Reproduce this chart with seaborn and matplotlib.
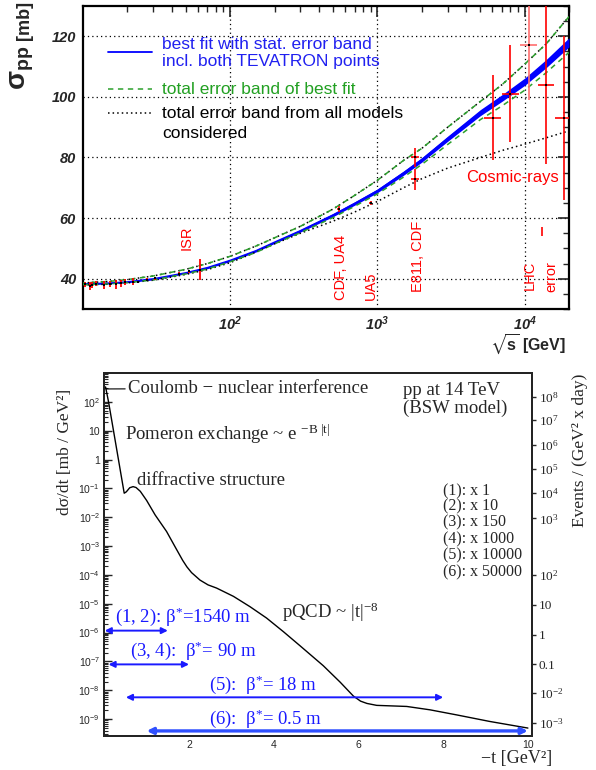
import matplotlib
matplotlib.use("Agg")
import matplotlib.pyplot as plt
import seaborn as sns
import pandas as pd
from matplotlib.ticker import MultipleLocator, LogLocator, NullFormatter, NullLocator

# ---------------- top panel data ----------------
fit_sqrt_s = [10, 15, 20, 30, 50, 70, 100, 150, 200, 300, 500, 700, 1000, 1500, 2000, 3000, 5000, 7000, 10000, 14000, 20000]
best_fit = [38.2, 38.5, 38.9, 39.9, 41.9, 43.6, 46.0, 49.2, 52.0, 55.8, 61.0, 64.8, 69.0, 74.8, 79.2, 86.2, 94.8, 99.6, 105.0, 111.0, 118.0]
stat_lo = [38.0, 38.3, 38.7, 39.65, 41.65, 43.3, 45.7, 48.85, 51.65, 55.4, 60.5, 64.25, 68.4, 74.1, 78.45, 85.35, 93.8, 98.5, 103.8, 109.65, 116.5]
stat_hi = [38.4, 38.7, 39.1, 40.15, 42.15, 43.9, 46.3, 49.55, 52.35, 56.2, 61.5, 65.35, 69.6, 75.5, 79.95, 87.05, 95.8, 100.7, 106.2, 112.35, 119.5]
total_hi = [38.6, 39.1, 39.7, 40.9, 43.1, 45.0, 47.4, 50.8, 53.5, 57.3, 63.0, 67.5, 72.5, 79.0, 83.0, 90.0, 98.5, 104.0, 110.8, 117.5, 126.5]
total_lo = [38.0, 38.3, 38.7, 39.6, 41.6, 43.2, 45.6, 48.7, 51.5, 55.2, 60.2, 63.9, 68.0, 73.5, 77.7, 84.3, 92.5, 97.0, 102.2, 108.0, 114.7]
models_lo = [37.9, 38.2, 38.6, 39.5, 41.4, 43.0, 45.3, 48.8, 51.5, 55.0, 59.0, 62.0, 65.5, 70.0, 73.0, 76.5, 80.0, 82.3, 84.4, 86.5, 88.8]

low_sqrt_s = [10.3, 11.1, 11.5, 12.3, 13.8, 15.3, 16.8, 18.2, 19.4, 21.7, 23.5, 27.4, 30.6, 44.7, 52.8, 62.5]
low_sigma = [38.1, 37.6, 38.0, 38.3, 38.0, 38.4, 38.2, 38.5, 38.9, 39.0, 38.9, 39.7, 40.2, 41.7, 42.4, 43.0]
low_err = [0.9, 1.2, 1.0, 0.8, 1.3, 1.0, 1.5, 1.2, 0.9, 1.1, 0.4, 0.6, 0.5, 0.5, 0.6, 3.5]

coll_sqrt_s = [546, 900, 1800, 1800]
coll_sigma = [63.0, 65.0, 80.0, 72.8]
coll_err = [0.9, 0.8, 3.2, 3.5]
coll_xerr_lo = [15, 20, 110, 110]
coll_xerr_hi = [15, 20, 120, 120]

cosmic_sqrt_s = [6080, 8000, 10650, 13960, 18400]
cosmic_sigma = [93.1, 101.0, 117.0, 104.0, 93.0]
cosmic_err = [14.0, 16.0, 18.0, 26.0, 27.0]
cosmic_xerr_lo = [750, 980, 1300, 1700, 2250]
cosmic_xerr_hi = [850, 1120, 1500, 1950, 2550]

lhc_sqrt_s = [13200]
lhc_sigma = [55.5]
lhc_err = [1.4]

# ---------------- bottom panel data ----------------
t_vals = [0.03, 0.1, 0.2, 0.3, 0.4, 0.47, 0.52, 0.6, 0.68, 0.75, 0.85, 1.0, 1.2, 1.47, 1.7, 1.85,
          1.95, 2.06, 2.26, 2.45, 2.65, 3.05, 3.44, 3.83, 4.23, 4.62, 5.17, 5.57, 5.88, 6.05, 6.2,
          6.43, 7.14, 7.69, 8.32, 9.1, 10.0]
dsdt_vals = [3.3e2, 1.0e2, 1.4e1, 1.95, 2.7e-1, 6.8e-2, 7.6e-2, 1.05e-1, 1.15e-1, 1.07e-1, 7.9e-2,
             3.8e-2, 1.2e-2, 3.2e-3, 7.9e-4, 3.2e-4, 1.9e-4, 1.2e-4, 6.6e-5, 4.5e-5, 3.5e-5,
             1.8e-5, 7.9e-6, 3.2e-6, 1.07e-6, 3.5e-7, 7.1e-8, 1.9e-8, 6.3e-9, 4.2e-9, 3.5e-9,
             3.0e-9, 2.75e-9, 2.1e-9, 1.4e-9, 8.3e-10, 4.9e-10]

beta_labels = [r"(1, 2): $\mathregular{β^{*}}$=1540 m", r"(3, 4):  $\mathregular{β^{*}}$= 90 m",
               r"(5):  $\mathregular{β^{*}}$= 18 m", r"(6):  $\mathregular{β^{*}}$= 0.5 m"]
beta_t_min = [0.01, 0.1, 0.51, 1.0]
beta_t_max = [1.5, 2.0, 8.0, 10.0]
beta_level = [1.17e-6, 7.9e-8, 5.7e-9, 3.9e-10]

mult_labels = ["(1): x 1", "(2): x 10", "(3): x 150", "(4): x 1000", "(5): x 10000", "(6): x 50000"]

left_tick_vals = [1e-9, 1e-8, 1e-7, 1e-6, 1e-5, 1e-4, 1e-3, 1e-2, 1e-1, 1, 10, 100]
left_tick_labels = [r"$\mathregular{10^{-9}}$", r"$\mathregular{10^{-8}}$", r"$\mathregular{10^{-7}}$",
                    r"$\mathregular{10^{-6}}$", r"$\mathregular{10^{-5}}$", r"$\mathregular{10^{-4}}$",
                    r"$\mathregular{10^{-3}}$", r"$\mathregular{10^{-2}}$", r"$\mathregular{10^{-1}}$",
                    "1", "10", r"$\mathregular{10^{2}}$"]
events_tick_vals = [1.48e2, 2.34e1, 3.16, 4.6e-1, 6.8e-2, 9.1e-3, 1.0e-4, 9.1e-6, 8.3e-7, 8.1e-8, 7.9e-9, 7.2e-10]
events_tick_labels = [r"$\mathregular{10^{8}}$", r"$\mathregular{10^{7}}$", r"$\mathregular{10^{6}}$",
                      r"$\mathregular{10^{5}}$", r"$\mathregular{10^{4}}$", r"$\mathregular{10^{3}}$",
                      r"$\mathregular{10^{2}}$", "10", "1", "0.1", r"$\mathregular{10^{-2}}$",
                      r"$\mathregular{10^{-3}}$"]

# ---------------- style ----------------
sns.set_style("white")
SANS = ["Liberation Sans", "DejaVu Sans"]
SERIF = ["Liberation Serif", "DejaVu Serif"]
plt.rcParams["font.family"] = SANS
plt.rcParams["mathtext.fontset"] = "stix"

fig = plt.figure(figsize=(5.96, 7.70), dpi=100)
W, H = 596.0, 770.0

# ================= TOP PANEL =================
ax = fig.add_axes([83 / W, 1 - 309 / H, 486 / W, 303 / H])
ax.set_xscale("log")
ax.set_xlim(10, 2e4)
ax.set_ylim(30, 130)

ax.grid(True, which="major", color="black", linestyle=(0, (1, 2.5)), lw=0.9)

fit_df = pd.DataFrame({"s": fit_sqrt_s, "best": best_fit, "thi": total_hi,
                       "tlo": total_lo, "mlo": models_lo})
ax.fill_between(fit_sqrt_s, stat_lo, stat_hi, color="#0000ff", lw=0, zorder=3)
sns.lineplot(data=fit_df, x="s", y="best", color="#0000ff", lw=1.3, ax=ax, sort=False, estimator=None, zorder=3)
sns.lineplot(data=fit_df, x="s", y="thi", color="black", lw=1.1, linestyle=(0, (1, 2)), ax=ax, sort=False, estimator=None, zorder=4)
sns.lineplot(data=fit_df, x="s", y="mlo", color="black", lw=1.1, linestyle=(0, (1, 2)), ax=ax, sort=False, estimator=None, zorder=4)
sns.lineplot(data=fit_df, x="s", y="thi", color="#2ca02c", lw=1.1, linestyle=(1.5, (3.5, 3)), ax=ax, sort=False, estimator=None, zorder=4)
sns.lineplot(data=fit_df, x="s", y="tlo", color="#2ca02c", lw=1.1, linestyle=(0, (3.5, 3)), ax=ax, sort=False, estimator=None, zorder=4)

ax.errorbar(low_sqrt_s, low_sigma, yerr=low_err, fmt="none", ecolor="red", elinewidth=1.3, zorder=5)
ax.errorbar(coll_sqrt_s, coll_sigma, yerr=coll_err, xerr=[coll_xerr_lo, coll_xerr_hi], fmt="none",
            ecolor="red", elinewidth=1.2, zorder=5)
for i in range(len(cosmic_sqrt_s)):
    col = "#ff7070" if i == 2 else "red"
    ax.errorbar([cosmic_sqrt_s[i]], [cosmic_sigma[i]], yerr=[cosmic_err[i]],
                xerr=[[cosmic_xerr_lo[i]], [cosmic_xerr_hi[i]]], fmt="none", ecolor=col,
                elinewidth=1.2, zorder=5)
ax.errorbar(lhc_sqrt_s, lhc_sigma, yerr=lhc_err, fmt="none", ecolor="red", elinewidth=1.2, zorder=5)

pts = pd.DataFrame({"s": low_sqrt_s + coll_sqrt_s + cosmic_sqrt_s,
                    "v": low_sigma + coll_sigma + cosmic_sigma})
sns.scatterplot(data=pts, x="s", y="v", marker="s", s=4, color="black", linewidth=0, ax=ax, zorder=6)

ax.set_xlabel("")
ax.set_ylabel("")
ax.yaxis.set_major_locator(MultipleLocator(20))
ax.yaxis.set_minor_locator(MultipleLocator(5))
ax.set_xticks([100, 1000, 10000], [r"$\mathregular{10^{2}}$", r"$\mathregular{10^{3}}$", r"$\mathregular{10^{4}}$"])
ax.xaxis.set_minor_locator(LogLocator(base=10, subs=range(2, 10), numticks=30))
ax.xaxis.set_minor_formatter(NullFormatter())
ax.tick_params(axis="both", which="major", direction="in", length=8, width=1.2, top=True, right=True,
               labelsize=10.5, pad=5)
ax.tick_params(axis="x", which="major", pad=4)
ax.tick_params(axis="both", which="minor", direction="in", length=4.5, width=1.0, top=True, right=True)
for lab in ax.get_xticklabels() + ax.get_yticklabels():
    lab.set_fontweight("bold")
    lab.set_fontstyle("italic")
for sp in ax.spines.values():
    sp.set_linewidth(1.6)
    sp.set_color("black")

# legend (manual)
ax.plot([0.052, 0.142], [0.848, 0.848], transform=ax.transAxes, color="#0000ff", lw=1.3)
ax.plot([0.052, 0.142], [0.726, 0.726], transform=ax.transAxes, color="#2ca02c", lw=1.1, linestyle=(0, (3.5, 3)))
ax.plot([0.052, 0.142], [0.647, 0.647], transform=ax.transAxes, color="black", lw=1.1, linestyle=(0, (1, 2)))
leg_fs = 12.5
ax.text(0.1626, 0.874, "best fit with stat. error band", transform=ax.transAxes, color="#2020f0",
        fontsize=leg_fs, va="center", ha="left")
ax.text(0.1626, 0.816, "incl. both TEVATRON points", transform=ax.transAxes, color="#2020f0",
        fontsize=leg_fs, va="center", ha="left")
ax.text(0.1626, 0.726, "total error band of best fit", transform=ax.transAxes, color="#22a022",
        fontsize=leg_fs, va="center", ha="left")
ax.text(0.1626, 0.645, "total error band from all models", transform=ax.transAxes, color="black",
        fontsize=leg_fs, va="center", ha="left")
ax.text(0.1626, 0.580, "considered", transform=ax.transAxes, color="black",
        fontsize=leg_fs, va="center", ha="left")

# experiment labels
red_fs = 10.5
ax.text(50.2, 49.6, "ISR", rotation=90, color="red", fontsize=red_fs, ha="center", va="bottom")
ax.text(569, 33.1, "CDF, UA4", rotation=90, color="red", fontsize=red_fs, ha="center", va="bottom")
ax.text(896, 33.1, "UA5", rotation=90, color="red", fontsize=red_fs, ha="center", va="bottom")
ax.text(1900, 35.7, "E811, CDF", rotation=90, color="red", fontsize=red_fs, ha="center", va="bottom")
ax.text(10800, 36.4, "LHC", rotation=90, color="red", fontsize=red_fs, ha="center", va="bottom")
ax.text(15100, 35.7, "error", rotation=90, color="red", fontsize=red_fs, ha="center", va="bottom")
ax.text(0.980, 0.434, "Cosmic-rays", transform=ax.transAxes, color="red", fontsize=12, ha="right", va="center")

# axis labels
ax.text(0.994, -0.117, r"$\sqrt{\mathregular{s}}$ [GeV]", transform=ax.transAxes, ha="right", va="center",
        fontsize=11.5, fontweight="bold")
ax.text(-0.124, 0.795, r"$\mathregular{σ_{pp}}$", transform=ax.transAxes, rotation=90, ha="center",
        va="center", fontsize=20, fontweight="bold")
ax.text(-0.121, 0.952, "[mb]", transform=ax.transAxes, rotation=90, ha="center", va="center",
        fontsize=13, fontweight="bold")

# ================= BOTTOM PANEL =================
bx = fig.add_axes([104.3 / W, 1 - 736 / H, 427.4 / W, 363 / H])
bx.set_yscale("log")
bx.set_xlim(0, 10.09)
bx.set_ylim(2.6e-10, 1e3)

curve = pd.DataFrame({"t": t_vals, "d": dsdt_vals})
sns.lineplot(data=curve, x="t", y="d", color="black", lw=1.0, ax=bx, sort=False, estimator=None)
bx.set_xlabel("")
bx.set_ylabel("")

for i in range(len(beta_labels)):
    lw = 2.4 if i == 3 else 1.4
    col = "#3050ff" if i == 3 else "#1a1aff"
    bx.annotate("", xy=(beta_t_max[i], beta_level[i]), xytext=(beta_t_min[i], beta_level[i]),
                arrowprops=dict(arrowstyle="<|-|>", color=col, lw=lw, shrinkA=0, shrinkB=0,
                                mutation_scale=9))

beta_text_pos = [(0.255, 3.5e-6), (0.61, 2.4e-7), (2.48, 1.55e-8), (2.48, 1.0e-9)]
for lab, (tx, ty) in zip(beta_labels, beta_text_pos):
    bx.text(tx, ty, lab, color="#1a1aff", fontsize=13.5, family=SERIF, ha="left", va="center")

txt_fs = 13.5
bx.annotate("Coulomb − nuclear interference", xy=(0.04, 2.8e2), xytext=(0.57, 2.9e2),
            fontsize=txt_fs, family=SERIF, ha="left", va="center",
            arrowprops=dict(arrowstyle="-", lw=0.8, color="black", shrinkA=0, shrinkB=0))
bx.text(0.49, 7.4, r"Pomeron exchange ~ e $\mathregular{^{-B\ |t|}}$", fontsize=txt_fs, family=SERIF,
        ha="left", va="center")
bx.text(0.77, 0.195, "diffractive structure", fontsize=txt_fs, family=SERIF, ha="left", va="center")
bx.text(4.19, 4.9e-6, r"pQCD ~ $\mathregular{|t|^{-8}}$", fontsize=txt_fs, family=SERIF, ha="left", va="center")
bx.text(0.699, 0.952, "pp at 14 TeV", transform=bx.transAxes, fontsize=13.5, family=SERIF, ha="left", va="center")
bx.text(0.699, 0.902, "(BSW model)", transform=bx.transAxes, fontsize=13.5, family=SERIF, ha="left", va="center")
mult_y = [0.675, 0.632, 0.588, 0.542, 0.497, 0.452]
for lab, yy in zip(mult_labels, mult_y):
    bx.text(0.793, yy, lab, transform=bx.transAxes, fontsize=11.5, family=SERIF, ha="left", va="center")

bx.set_xticks([2, 4, 6, 8, 10], ["2", "4", "6", "8", "10"])
bx.xaxis.set_minor_locator(MultipleLocator(0.5))
bx.set_yticks(left_tick_vals, left_tick_labels)
bx.yaxis.set_minor_locator(LogLocator(base=10, subs=range(2, 10), numticks=30))
bx.yaxis.set_minor_formatter(NullFormatter())
bx.tick_params(axis="both", which="major", direction="in", length=6, width=1.0, labelsize=7.5, pad=3,
               right=False, top=False)
bx.tick_params(axis="both", which="minor", direction="in", length=3, width=0.8, right=False, top=False)
for sp in bx.spines.values():
    sp.set_linewidth(1.3)
    sp.set_color("black")

rx = bx.twinx()
rx.set_yscale("log")
rx.set_ylim(2.6e-10, 1e3)
rx.set_yticks(events_tick_vals, events_tick_labels)
rx.yaxis.set_minor_locator(NullLocator())
rx.tick_params(axis="y", which="major", direction="out", length=3, width=1.0, labelsize=9.5, pad=2)
for lab in rx.get_yticklabels():
    lab.set_family(SERIF)
for sp in rx.spines.values():
    sp.set_linewidth(1.3)

bx.text(-0.092, 0.783, "dσ/dt [mb / GeV²]", transform=bx.transAxes, rotation=90, fontsize=12.5,
        family=SERIF, ha="center", va="center")
bx.text(1.113, 0.788, "Events / (GeV² x day)", transform=bx.transAxes, rotation=90, fontsize=12.5,
        family=SERIF, ha="center", va="center")
bx.text(1.047, -0.061, "−t [GeV²]", transform=bx.transAxes, fontsize=13, family=SERIF,
        ha="right", va="center")

fig.savefig("out.png", dpi=100)
